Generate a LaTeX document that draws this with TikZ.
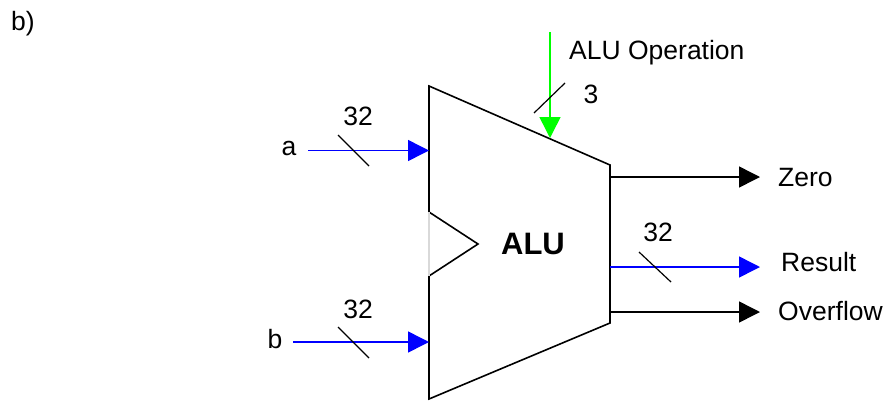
\documentclass[tikz,border=0pt]{standalone}
\usepackage{fontspec}
\setmainfont{Liberation Sans}
\usetikzlibrary{arrows.meta}
\tikzset{
	wire/.style={line width=1.5pt,-{Triangle[length=21pt,width=21pt]}},
	slash/.style={line width=1.2pt},
	lbl/.style={inner sep=0pt,font=\fontsize{26.5}{29}\selectfont},
}
\begin{document}
\begin{tikzpicture}[x=1pt,y=-1pt]
		\useasboundingbox (0,0) rectangle (886,400);
		% body of the unit
		\coordinate (tl) at (429,86);
		\coordinate (tr) at (610,165);
		\coordinate (br) at (610,323);
		\coordinate (bl) at (429,399);
		\coordinate (nu) at (429,212);
		\coordinate (nt) at (478,244);
		\coordinate (nd) at (429,276);
		\draw [line width=1.6pt,line join=miter] (nu)--(tl)--(tr)--(br)--(bl)--(nd)--(nt)--cycle;
		\draw [color=gray!30,line width=1.2pt] (nu)--(nd);
		\node [font=\fontsize{31}{33}\selectfont\bfseries,inner sep=0pt] (alu) at (533,244) {ALU};
		% inputs
		\node [lbl] (a) at (289,148) {a};
		\node [lbl] (b) at (275,339) {b};
		\coordinate (astart) at (308,150.5);
		\coordinate (bstart) at (293,342);
		\coordinate (aend) at (429,150.5);
		\coordinate (bend) at (429,342);
		\draw [wire,color=blue] (astart)--(aend);
		\draw [wire,color=blue] (bstart)--(bend);
		\draw [slash] (338,135)--(369,166);
		\draw [slash] (338,327)--(369,358);
		\node [lbl] (awidth) at (358,116.5) {32};
		\node [lbl] (bwidth) at (358,309.5) {32};
		% operation
		\coordinate (opstart) at (550,32);
		\coordinate (opend) at (550,138);
		\draw [wire,color=green] (opstart)--(opend);
		\draw [slash] (534,113)--(565,83);
		\node [lbl,anchor=west] (op) at (569,52.5) {ALU Operation};
		\node [lbl] (opwidth) at (591,94.5) {3};
		% outputs
		\node [lbl,anchor=west] (zero) at (778,177.5) {Zero};
		\node [lbl,anchor=west] (result) at (781,262) {Result};
		\node [lbl,anchor=west] (overflow) at (778,311) {Overflow};
		\coordinate (zstart) at (610,177);
		\coordinate (rstart) at (610,267);
		\coordinate (ostart) at (610,312);
		\coordinate (zend) at (760,177);
		\coordinate (rend) at (760,267);
		\coordinate (oend) at (760,312);
		\draw [wire] (zstart)--(zend);
		\draw [wire,color=blue] (rstart)--(rend);
		\draw [wire] (ostart)--(oend);
		\draw [slash] (639,252)--(671,282);
		\node [lbl] (rwidth) at (658,232.5) {32};
		\node [lbl,anchor=west] (part) at (11,23.5) {b)};
	\end{tikzpicture}
\end{document}
